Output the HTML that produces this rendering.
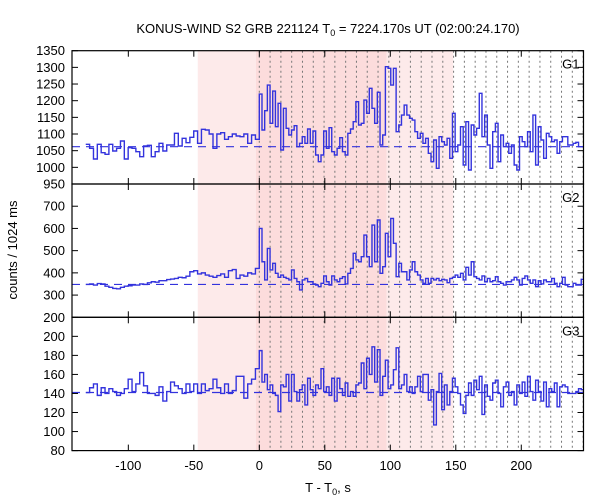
<!DOCTYPE html>
<html><head><meta charset="utf-8"><style>
body{margin:0;background:#fff}
svg{display:block;font-family:"Liberation Sans",sans-serif}
</style></head><body>
<svg id="chart" width="600" height="500" viewBox="0 0 600 500">
<text x="328" y="33" text-anchor="middle" font-size="13">KONUS-WIND S2 GRB 221124 T<tspan font-size="9" dy="3">0</tspan><tspan dy="-3"> = 7224.170s UT (02:00:24.170)</tspan></text>
<text x="328" y="492" text-anchor="middle" font-size="13">T - T<tspan font-size="9" dy="3">0</tspan><tspan dy="-3">, s</tspan></text>
<text transform="translate(17,250) rotate(-90)" text-anchor="middle" font-size="13">counts / 1024 ms</text>
<g id="plots"></g>
</svg>
<script>
const xTicks=[-100,-50,0,50,100,150,200];
const xTickLabels=["-100","-50","0","50","100","150","200"];
const panelNames=["G1","G2","G3"];
const bgLevels=[1062,348,141];
const preStart=-132.5, preBin=2.944, postBin=2.048;
const g1Pre=[1069,1057,1025,1069,1044,1039,1069,1049,1057,1079,1025,1059,1057,1047,1032,1064,1066,1032,1047,1072,1049,1067,1067,1102,1064,1087,1074,1090,1109,1072,1114,1112,1100,1057,1100,1104,1084,1092,1100,1094,1092,1100,1072,1097,1084];
const g1Post=[1220,1112,1170,1247,1132,1229,1122,1192,1052,1177,1117,1097,1112,1125,1062,1072,1092,1072,1115,1072,1109,1037,1017,1037,1109,1057,1119,1047,1037,1057,1089,1047,1037,1102,1115,1137,1197,1127,1132,1202,1162,1237,1177,1132,1225,1067,1097,1302,1297,1247,1297,1107,1127,1157,1187,1157,1147,1142,1107,1087,1102,1072,1087,1042,1017,1082,997,1092,1077,1067,1087,1027,1162,1047,1067,1122,1007,1137,992,1127,1097,1117,1222,1092,1157,1067,997,1107,1132,1017,1097,1062,1072,1042,1067,1007,992,1092,1077,1062,1107,1047,1157,1007,1122,1082,1027,1102,1092,1077,1082,1042,1077,1092,1092,1067,1067,1072,1075,1062,1062];
const g2Pre=[348,350,345,352,350,340,335,330,328,335,340,342,345,345,350,348,355,360,358,365,365,370,372,375,380,378,385,405,410,395,400,390,385,380,388,395,380,410,415,375,390,385,400,395,420];
const g2Post=[600,450,368,510,413,443,398,380,390,380,375,368,413,375,360,323,368,375,360,360,350,345,338,353,386,360,345,386,368,360,375,383,350,398,420,488,458,450,473,570,473,428,615,450,638,398,428,578,473,645,533,383,443,405,405,368,413,450,405,390,368,353,375,353,375,368,375,365,371,368,356,375,380,390,380,398,368,425,390,450,383,375,368,386,360,375,360,365,383,360,353,345,360,360,368,380,368,345,375,386,368,353,368,338,365,350,368,360,360,375,353,338,353,380,345,338,338,353,345,345,371];
const g3Pre=[141,146,150,138,146,140,145,142,138,140,145,155,142,150,162,148,140,140,138,147,132,142,152,148,145,140,150,142,150,140,150,143,145,155,146,140,150,140,143,158,158,135,150,155,166];
const g3Post=[185,152,160,144,149,140,138,121,149,147,160,132,160,142,132,144,149,128,156,144,138,149,145,166,142,147,138,156,132,156,145,138,151,137,142,137,149,151,172,145,177,160,189,152,186,138,158,175,145,149,165,188,145,149,160,142,147,140,147,158,142,160,160,133,144,107,142,161,123,149,128,142,156,147,140,128,119,138,151,138,154,144,158,118,149,137,133,151,154,140,126,147,152,138,142,128,149,140,152,137,158,142,133,154,142,132,152,126,145,142,151,126,147,149,147,140,140,140,142,145,144];
const yRanges=[[950,1350],[200,800],[80,220]];
const yTickVals=[[950,1000,1050,1100,1150,1200,1250,1300,1350],[200,300,400,500,600,700],[80,100,120,140,160,180,200]];
const series=[[g1Pre,g1Post],[g2Pre,g2Post],[g3Pre,g3Post]];

const NS="http://www.w3.org/2000/svg";
const X0=72,X1=583.5,T0=-143,T1=247.5;
const panelTops=[50.7,184,317.3],panelH=133.3;
const xs=t=>X0+(t-T0)/(T1-T0)*(X1-X0);
const plots=document.getElementById('plots');
function mk(tag,attrs,parent){const e=document.createElementNS(NS,tag);for(const k in attrs)e.setAttribute(k,attrs[k]);(parent||plots).appendChild(e);return e;}

// defs clip
const defs=mk('defs',{});
const cp=mk('clipPath',{id:'clipAll'},defs);
mk('rect',{x:X0,y:panelTops[0],width:X1-X0,height:panelH*3},cp);

// shaded regions
const r1=mk('rect',{x:xs(-47),y:panelTops[0],width:xs(0)-xs(-47),height:panelH*3,fill:'#fdeaea'});


const r2=mk('rect',{x:xs(-2.5),y:panelTops[0],width:xs(97.2)-xs(-2.5),height:panelH*3,fill:'#fcdcdc'});


const r3=mk('rect',{x:xs(97.2),y:panelTops[0],width:xs(148)-xs(97.2),height:panelH*3,fill:'#fdeaea'});



// dotted lines
for(let k=0;k<=30;k++){const x=xs(k*8.24);
 const l=mk('line',{x1:x,x2:x,y1:panelTops[0],y2:panelTops[0]+panelH*3,stroke:'#777','stroke-width':1,'stroke-dasharray':'2,3'});
 
 
}

for(let p=0;p<3;p++){
 const top=panelTops[p],[lo,hi]=yRanges[p];
 const ys=v=>top+panelH-(v-lo)/(hi-lo)*panelH;
 const g=mk('g',{'clip-path':'url(#clipAll)'});
 
 
 const bl=mk('line',{x1:X0,x2:X1,y1:ys(bgLevels[p]),y2:ys(bgLevels[p]),stroke:'#3333dd','stroke-width':1.2,'stroke-dasharray':'8,6'},g);
 
 
 const [pre,post]=series[p];
 let d='';
 pre.forEach((v,i)=>{const a=xs(preStart+i*preBin),b=xs(preStart+(i+1)*preBin),y=ys(v);d+=(i?'L':'M')+a.toFixed(2)+','+y.toFixed(2)+'L'+b.toFixed(2)+','+y.toFixed(2);});
 post.forEach((v,i)=>{const a=xs(i*postBin),b=xs((i+1)*postBin),y=ys(v);d+='L'+a.toFixed(2)+','+y.toFixed(2)+'L'+b.toFixed(2)+','+y.toFixed(2);});
 const path=mk('path',{d:d,fill:'none',stroke:'#3333dd','stroke-width':1.4},g);
 
 
 // frame
 const fr=mk('rect',{x:X0,y:top,width:X1-X0,height:panelH,fill:'none',stroke:'#000','stroke-width':1.2});
 
 
 yTickVals[p].forEach(v=>{const y=ys(v);
  mk('line',{x1:X0,x2:X0+6,y1:y,y2:y,stroke:'#000'});
  mk('line',{x1:X1-6,x2:X1,y1:y,y2:y,stroke:'#000'});
  const t=mk('text',{x:X0-7,y:y+4.5,'text-anchor':'end','font-size':13});
  t.textContent=String(v);
  
  
 });
 xTicks.forEach(v=>{const x=xs(v);
  mk('line',{x1:x,x2:x,y1:top,y2:top+6,stroke:'#000'});
  mk('line',{x1:x,x2:x,y1:top+panelH-6,y2:top+panelH,stroke:'#000'});
 });
 const lab=mk('text',{x:X1-4,y:top+18,'text-anchor':'end','font-size':13});
 lab.textContent=panelNames[p];
 
 
}
xTicks.forEach((v,i)=>{const t=mk('text',{x:xs(v),y:470,'text-anchor':'middle','font-size':13});
 t.textContent=xTickLabels[i];
 
 
});
</script>
</body></html>
